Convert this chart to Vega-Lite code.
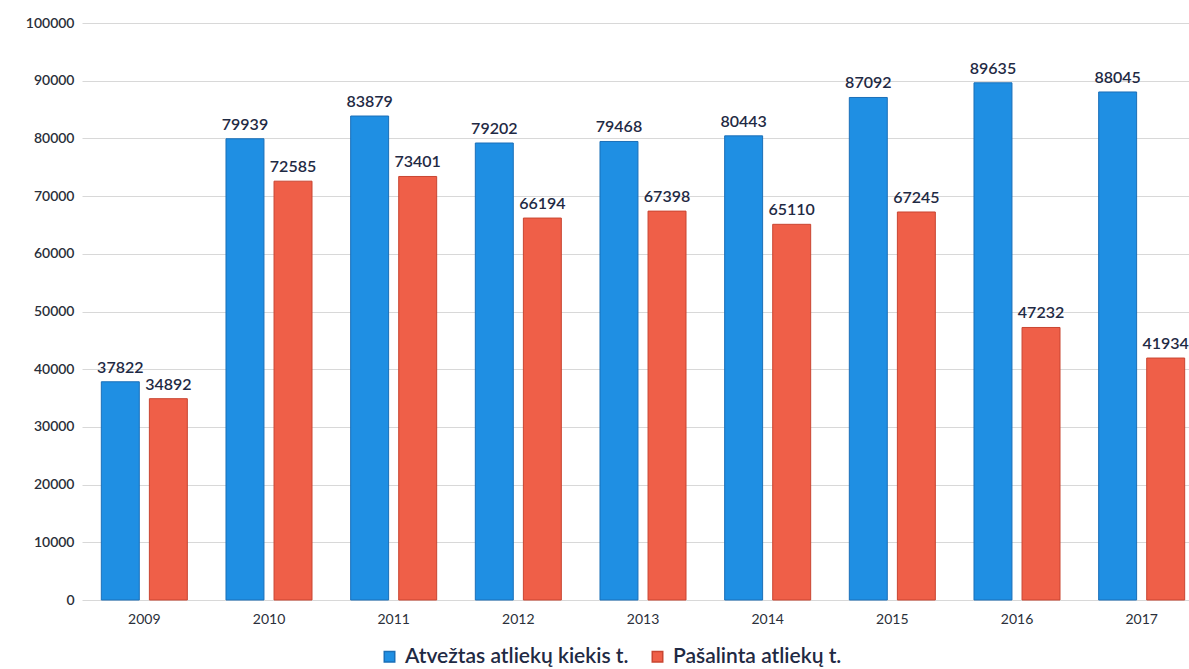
{
  "$schema": "https://vega.github.io/schema/vega-lite/v6.json",
  "autosize": "none",
  "padding": {"left": 82, "top": 23, "right": 0, "bottom": 69},
  "width": 1122,
  "height": 577,
  "background": "white",
  "data": {
    "values": [
      {"year": "2009", "series": "Atvežtas atliekų kiekis t.", "value": 37822},
      {"year": "2009", "series": "Pašalinta atliekų t.", "value": 34892},
      {"year": "2010", "series": "Atvežtas atliekų kiekis t.", "value": 79939},
      {"year": "2010", "series": "Pašalinta atliekų t.", "value": 72585},
      {"year": "2011", "series": "Atvežtas atliekų kiekis t.", "value": 83879},
      {"year": "2011", "series": "Pašalinta atliekų t.", "value": 73401},
      {"year": "2012", "series": "Atvežtas atliekų kiekis t.", "value": 79202},
      {"year": "2012", "series": "Pašalinta atliekų t.", "value": 66194},
      {"year": "2013", "series": "Atvežtas atliekų kiekis t.", "value": 79468},
      {"year": "2013", "series": "Pašalinta atliekų t.", "value": 67398},
      {"year": "2014", "series": "Atvežtas atliekų kiekis t.", "value": 80443},
      {"year": "2014", "series": "Pašalinta atliekų t.", "value": 65110},
      {"year": "2015", "series": "Atvežtas atliekų kiekis t.", "value": 87092},
      {"year": "2015", "series": "Pašalinta atliekų t.", "value": 67245},
      {"year": "2016", "series": "Atvežtas atliekų kiekis t.", "value": 89635},
      {"year": "2016", "series": "Pašalinta atliekų t.", "value": 47232},
      {"year": "2017", "series": "Atvežtas atliekų kiekis t.", "value": 88045},
      {"year": "2017", "series": "Pašalinta atliekų t.", "value": 41934}
    ]
  },
  "encoding": {
    "x": {
      "field": "year", "type": "nominal",
      "scale": {"paddingInner": 0.31, "paddingOuter": 0.155},
      "axis": {"title": null, "labelAngle": 0, "domain": false, "ticks": false, "labelPadding": 12,
               "labelFont": "Lato", "labelFontSize": 14, "labelColor": "#2a2f3a"}
    },
    "xOffset": {"field": "series", "type": "nominal", "scale": {"paddingInner": 0.21, "paddingOuter": 0}},
    "y": {
      "field": "value", "type": "quantitative",
      "scale": {"domain": [0, 100000]},
      "axis": {"title": null, "tickCount": 10, "format": "d", "domain": false, "ticks": false, "labelPadding": 8,
               "grid": true, "gridColor": "#d8d8d8", "gridWidth": 1,
               "labelFont": "Lato", "labelFontSize": 14, "labelFontWeight": 600, "labelColor": "#2a2f3a"}
    }
  },
  "layer": [
    {
      "mark": {"type": "bar", "strokeWidth": 1},
      "encoding": {
        "color": {
          "field": "series", "type": "nominal",
          "scale": {"domain": ["Atvežtas atliekų kiekis t.", "Pašalinta atliekų t."], "range": ["#1f8fe3", "#ef5f48"]},
          "legend": {"title": null, "orient": "none", "direction": "horizontal", "legendX": 297, "legendY": 623,
                     "symbolType": "square", "symbolSize": 110, "columnPadding": 18, "labelLimit": 400, "labelOffset": 5,
                     "labelFont": "Lato", "labelFontSize": 21, "labelColor": "#1f2a44", "labelFontWeight": 600}
        },
        "stroke": {
          "field": "series", "type": "nominal",
          "scale": {"domain": ["Atvežtas atliekų kiekis t.", "Pašalinta atliekų t."], "range": ["#1a6fb8", "#c94531"]},
          "legend": null
        }
      }
    },
    {
      "mark": {"type": "text", "baseline": "bottom", "dy": -6, "font": "Lato", "fontSize": 16, "fontWeight": 600, "color": "#1f2a44"},
      "encoding": {"text": {"field": "value", "type": "quantitative", "format": "d"}}
    }
  ],
  "config": {"view": {"stroke": null}}
}
